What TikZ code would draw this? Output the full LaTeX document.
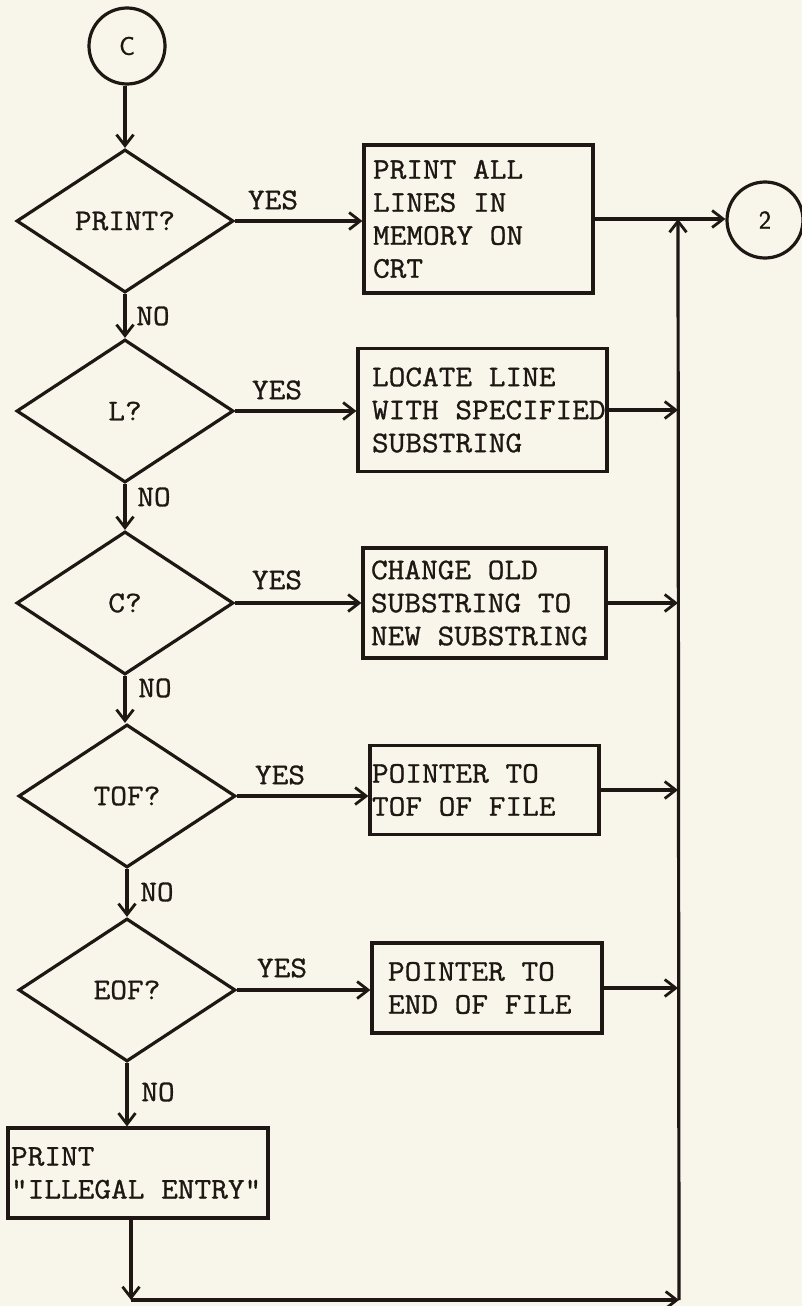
\documentclass[tikz,border=0pt]{standalone}
\usepackage{fontspec}
\newfontfamily\tw[FakeStretch=1.08,FakeBold=1.0]{Latin Modern Mono}
\newfontfamily\cf[FakeBold=1.0]{Latin Modern Sans}
\newcommand\tsp{\hphantom{X}}
\usetikzlibrary{shapes.geometric,arrows.meta}
\definecolor{ink}{HTML}{1E1713}
\definecolor{paper}{HTML}{F8F6EA}
\begin{document}
\begin{tikzpicture}[x=1pt,y=-1pt,
  every node/.style={font=\tw\fontsize{30}{33}\selectfont, text=ink},
  ln/.style={draw=ink, line width=3.2pt},
  arr/.style={ln, -{Straight Barb[length=11pt,width=17pt,line width=2.8pt]}},
  dec/.style={ln, diamond, minimum width=217pt, minimum height=143pt, inner sep=0pt},
  proc/.style={ln, rectangle, align=left, inner ysep=0pt},
  conn/.style={ln, circle, minimum size=76pt, inner sep=0pt, font=\cf\fontsize{26}{30}\selectfont},
  lbl/.style={inner sep=0pt}]
\fill[paper] (0,0) rectangle (802,1306);
\useasboundingbox (0,0) rectangle (802,1306);

% connectors (circles)
\node[conn] (c) at (127,46) {C};
\node[conn] (c2) at (765,220) {2};

% decisions
\node[dec] (d1) at (125,221) {PRINT?};
\node[dec] (d2) at (125,411) {L?};
\node[dec] (d3) at (125,603) {C?};
\node[dec] (d4) at (127,796) {TOF?};
\node[dec] (d5) at (127,990) {EOF?};

% process boxes
\node[proc, minimum width=229pt, minimum height=148pt, inner xsep=9pt, text width=211pt] (b1) at (478.5,219)
  {\mbox{PRINT\tsp ALL}\\\mbox{LINES\tsp IN}\\\mbox{MEMORY\tsp ON}\\CRT};
\node[proc, minimum width=249pt, minimum height=123pt, inner xsep=14pt, text width=221pt] (b2) at (482.5,410)
  {\mbox{LOCATE\tsp LINE}\\\mbox{WITH\tsp SPECIFIED}\\\mbox{SUBSTRING}};
\node[proc, minimum width=243pt, minimum height=110pt, inner xsep=8pt, text width=227pt] (b3) at (484.5,603)
  {\mbox{CHANGE\tsp OLD}\\\mbox{SUBSTRING\tsp TO}\\\mbox{NEW\tsp SUBSTRING}};
\node[proc, minimum width=229pt, minimum height=89pt, inner xsep=2pt, text width=225pt] (b4) at (484.5,790)
  {\mbox{POINTER\tsp TO}\\\mbox{TOF\tsp OF\tsp FILE}};
\node[proc, minimum width=230pt, minimum height=90pt, inner xsep=16pt, text width=198pt] (b5) at (487,988)
  {\mbox{POINTER\tsp TO}\\\mbox{END\tsp OF\tsp FILE}};
\node[proc, minimum width=260pt, minimum height=90pt, inner xsep=3pt, text width=254pt] (b6) at (138,1173)
  {PRINT\\\mbox{"ILLEGAL\tsp ENTRY"}};

% labels
\node[lbl] (y1) at (273,200) {YES};
\node[lbl] (y2) at (277,390) {YES};
\node[lbl] (y3) at (277,580) {YES};
\node[lbl] (y4) at (280,775) {YES};
\node[lbl] (y5) at (282,968) {YES};
\node[lbl] (n1) at (153,316) {NO};
\node[lbl] (n2) at (154,497) {NO};
\node[lbl] (n3) at (155,688) {NO};
\node[lbl] (n4) at (157,892) {NO};
\node[lbl] (n5) at (158,1092) {NO};

% bus coordinates
\coordinate (bt) at (678,219);
\coordinate (bb) at (679,1300);
\coordinate (bl) at (131,1300);

% flow
\draw[arr] (d1.north |- c.south) -- (d1.north);
\draw[arr] (d1.south) -- (d1.south |- d2.north);
\draw[arr] (d2.south) -- (d2.south |- d3.north);
\draw[arr] (d3.south) -- (d3.south |- d4.north);
\draw[arr] (d4.south) -- (d4.south |- d5.north);
\draw[arr] (d5.south) -- (d5.south |- b6.north);

\draw[arr] (d1.east) -- (d1.east -| b1.west);
\draw[arr] (d2.east) -- (d2.east -| b2.west);
\draw[arr] (d3.east) -- (d3.east -| b3.west);
\draw[arr] (d4.east) -- (d4.east -| b4.west);
\draw[arr] (d5.east) -- (d5.east -| b5.west);

\draw[arr] (b1.east) -- (b1.east -| c2.west);
\draw[arr] (b2.east) -- (b2.east -| bt);
\draw[arr] (b3.east) -- (b3.east -| bt);
\draw[arr] (b4.east) -- (b4.east -| bt);
\draw[arr] (b5.east) -- (b5.east -| bt);

\draw[arr] (b6.south -| bl) -- (bl);
\draw[arr] (bl) -- (bb);
\draw[arr] (bb) -- (bt);
\end{tikzpicture}
\end{document}
